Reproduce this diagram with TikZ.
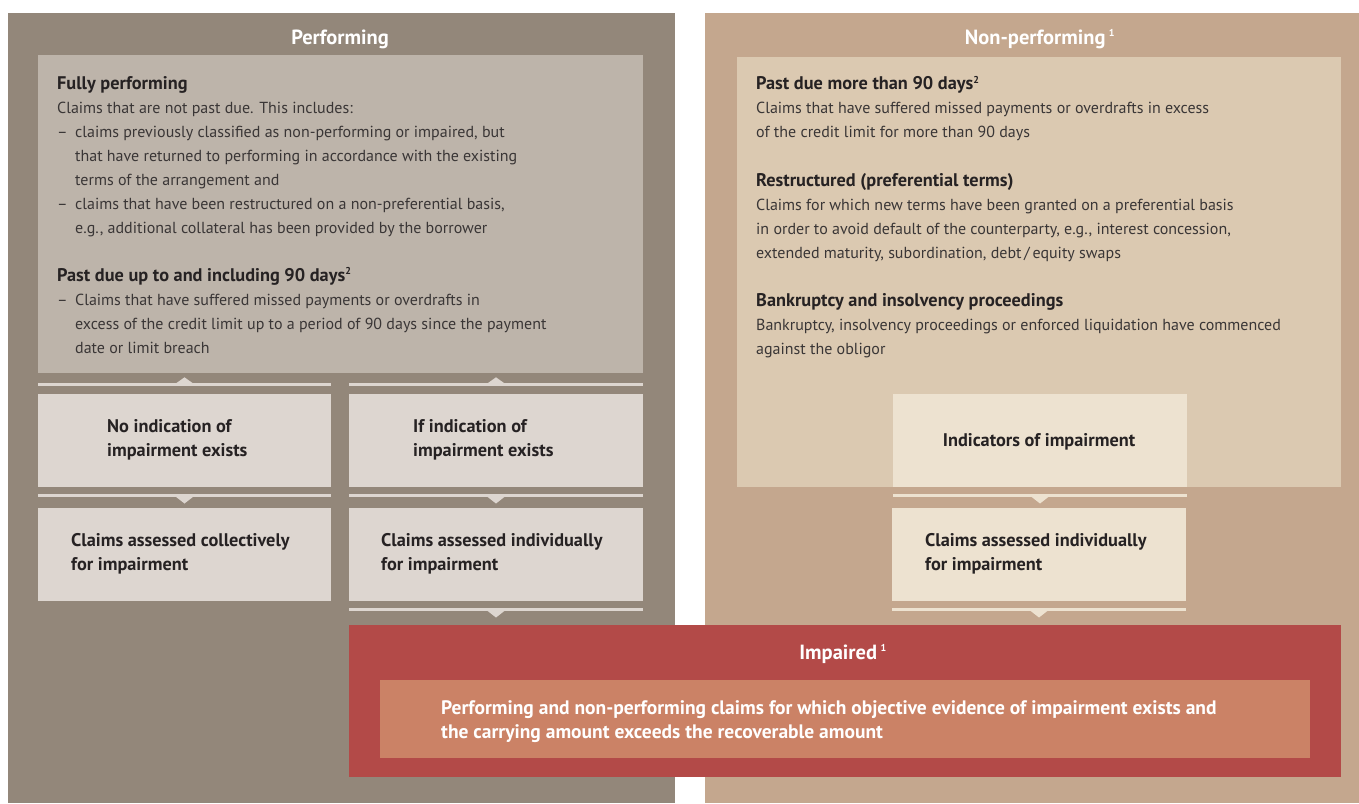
\documentclass[tikz,border=0pt]{standalone}
\usepackage{fontspec}
\setmainfont{PT Sans}
\usetikzlibrary{calc}
\definecolor{perfbg}{HTML}{93877A}
\definecolor{perfin}{HTML}{BDB4AA}
\definecolor{perfbox}{HTML}{DDD6D0}
\definecolor{npbg}{HTML}{C4A78E}
\definecolor{npin}{HTML}{DBC9B1}
\definecolor{npbox}{HTML}{EDE2D0}
\definecolor{impred}{HTML}{B34A48}
\definecolor{impsal}{HTML}{CB8266}
\definecolor{txtbold}{HTML}{262223}
\definecolor{txtbody}{HTML}{3A3636}
\newcommand\connbelow[2]{%
  \fill[#2] ($(#1.south west)+(0,7.3)$) rectangle ($(#1.south east)+(0,10)$);
  \fill[#2] ($(#1.south)+(-9,9.5)$) -- ($(#1.south)+(9,9.5)$) -- ($(#1.south)+(0,16.5)$) -- cycle;}
\newcommand\connabove[2]{%
  \fill[#2] ($(#1.north west)+(0,-8.3)$) rectangle ($(#1.north east)+(0,-10.7)$);
  \fill[#2] ($(#1.north)+(-9,-10.3)$) -- ($(#1.north)+(9,-10.3)$) -- ($(#1.north)+(0,-16.7)$) -- cycle;}
\tikzset{
  area/.style={anchor=north west, inner sep=0, outer sep=0, draw=none},
  body/.style={anchor=north west, inner sep=0, align=left, text=txtbody,
    font=\fontsize{16}{24}\selectfont},
  boxtext/.style={anchor=north west, inner sep=0, align=left, text=txtbold,
    font=\bfseries\fontsize{18.3}{24}\selectfont},
  title/.style={inner sep=0, text=white, font=\bfseries\fontsize{20.5}{24}\selectfont},
}
\newcommand\hd[1]{{\color{txtbold}\bfseries\fontsize{18.3}{24}\selectfont #1}}
\newcommand\fnm[1]{\textsuperscript{\fontsize{10}{10}\selectfont #1}}
\newcommand\dash{\makebox[18pt][l]{–}}
\newcommand\ind{\hspace*{18pt}}
\begin{document}
\begin{tikzpicture}[x=1pt,y=-1pt]
\useasboundingbox (0,0) rectangle (1359,803);
\fill[white] (0,0) rectangle (1359,803);
% panels
\node[area, fill=perfbg, minimum width=667, minimum height=790] (perf) at (8,13) {};
\node[area, fill=npbg, minimum width=654, minimum height=790] (nonperf) at (705,13) {};
\node[area, fill=perfin, minimum width=605, minimum height=318] (perfin) at (38,55) {};
\node[area, fill=npin, minimum width=604, minimum height=430] (npin) at (737,57) {};
% titles
\node[title] (perft) at (340,39) {Performing};
\node[title] (npt) at (1040,39) {Non-performing\,\fnm{1}};
% left text
\node[body] (perftext) at (57,76) {%
\hd{Fully performing}\\
Claims that are not past due. This includes:\\
\dash claims previously classified as non-performing or impaired, but\\
\ind that have returned to performing in accordance with the existing\\
\ind terms of the arrangement and\\
\dash claims that have been restructured on a non-preferential basis,\\
\ind e.g., additional collateral has been provided by the borrower\\[24pt]
\hd{Past due up to and including 90 days\fnm{2}}\\
\dash Claims that have suffered missed payments or overdrafts in\\
\ind excess of the credit limit up to a period of 90 days since the payment\\
\ind date or limit breach};
% right text
\node[body] (nptext) at (756,76) {%
\hd{Past due more than 90 days\fnm{2}}\\
Claims that have suffered missed payments or overdrafts in excess\\
of the credit limit for more than 90 days\\[25pt]
\hd{Restructured (preferential terms)}\\
Claims for which new terms have been granted on a preferential basis\\
in order to avoid default of the counterparty, e.g., interest concession,\\
extended maturity, subordination, debt\,/\,equity swaps\\[24pt]
\hd{Bankruptcy and insolvency proceedings}\\
Bankruptcy, insolvency proceedings or enforced liquidation have commenced\\
against the obligor};
% left boxes
\node[area, fill=perfbox, minimum width=293, minimum height=93] (nob) at (38,394) {};
\node[area, fill=perfbox, minimum width=294, minimum height=93] (ifb) at (349,394) {};
\node[area, fill=perfbox, minimum width=293, minimum height=93] (colb) at (38,508) {};
\node[area, fill=perfbox, minimum width=294, minimum height=93] (indb) at (349,508) {};
\node[boxtext] (nobt) at (107,419) {No indication of\\impairment exists};
\node[boxtext] (ifbt) at (413,419) {If indication of\\impairment exists};
\node[boxtext] (colbt) at (71,533) {Claims assessed collectively\\for impairment};
\node[boxtext] (indbt) at (381,533) {Claims assessed individually\\for impairment};
% right boxes
\node[area, fill=npbox, minimum width=294, minimum height=93] (indic) at (893,394) {};
\node[area, fill=npbox, minimum width=294, minimum height=93] (npcl) at (892,508) {};
\node[boxtext, anchor=center] (indict) at (1039,442) {Indicators of impairment};
\node[boxtext] (npclt) at (925,533) {Claims assessed individually\\for impairment};
% connectors
\connabove{nob}{perfbox}
\connabove{ifb}{perfbox}
\connbelow{nob}{perfbox}
\connbelow{ifb}{perfbox}
\connbelow{indb}{perfbox}
\connbelow{indic}{npbox}
\connbelow{npcl}{npbox}
% impaired
\node[area, fill=impred, minimum width=992, minimum height=152] (imp) at (349,625) {};
\node[area, fill=impsal, minimum width=930, minimum height=78] (impd) at (380,680) {};
\node[title] (impt) at (843,654) {Impaired\,\fnm{1}};
\node[boxtext, text=white, font=\bfseries\fontsize{19.5}{24}\selectfont] (impdt) at (441,700) {Performing and non-performing claims for which objective evidence of impairment exists and\\the carrying amount exceeds the recoverable amount};
\end{tikzpicture}
\end{document}
